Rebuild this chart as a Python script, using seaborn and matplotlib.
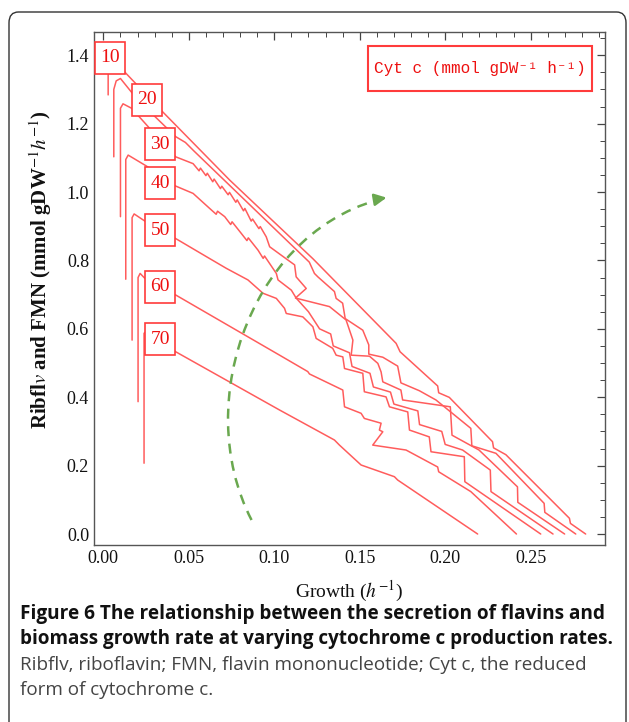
import matplotlib
matplotlib.use('Agg')
import pandas as pd
import matplotlib.pyplot as plt
import seaborn as sns
from matplotlib.patches import FancyBboxPatch, Rectangle, PathPatch
from matplotlib.path import Path
from matplotlib.ticker import MultipleLocator, FormatStrFormatter

# cytochrome c production rates (mmol gDW-1 h-1)
cyt_levels = [10, 20, 30, 40, 50, 60, 70]

growth_10 = [0.0028, 0.0028, 0.006, 0.0346, 0.0739, 0.1226, 0.1713, 0.1736, 0.1956, 0.1962,
             0.2024, 0.2277, 0.2283, 0.2355, 0.2727, 0.2733, 0.2822]
flux_10 = [1.284, 1.36, 1.385, 1.235, 1.035, 0.805, 0.5575, 0.533, 0.433, 0.413,
           0.3996, 0.270, 0.252, 0.232, 0.046, 0.031, 0.0]

growth_20 = [0.0061, 0.0061, 0.0075, 0.010, 0.020, 0.0423, 0.048, 0.053, 0.1205, 0.1235,
             0.1255, 0.1352, 0.1362, 0.1400, 0.1415, 0.1518, 0.1553, 0.1553, 0.1635, 0.1722,
             0.1741, 0.1849, 0.1946, 0.2150, 0.2156, 0.2297, 0.2579, 0.2583, 0.2764]
flux_20 = [1.103, 1.30, 1.325, 1.332, 1.27, 1.162, 1.145, 1.120, 0.795, 0.762,
           0.752, 0.709, 0.689, 0.675, 0.630, 0.596, 0.553, 0.526, 0.517, 0.491,
           0.442, 0.419, 0.392, 0.309, 0.258, 0.236, 0.0897, 0.0634, 0.0]

growth_30 = [0.0100, 0.0100, 0.0115, 0.0165, 0.030, 0.0423, 0.0525, 0.0560, 0.0568, 0.0600,
             0.0608, 0.0640, 0.0648, 0.0685, 0.0693, 0.0730, 0.0738, 0.0775, 0.0783, 0.0820,
             0.0828, 0.0865, 0.0873, 0.0910, 0.0918, 0.0953, 0.0973, 0.1080, 0.1119, 0.1128,
             0.1187, 0.1124, 0.1323, 0.1420, 0.1460, 0.1450, 0.1557, 0.1606, 0.1625, 0.1635,
             0.1741, 0.1751, 0.2030, 0.2040, 0.2198, 0.2423, 0.2425, 0.2699]
flux_30 = [0.928, 1.245, 1.258, 1.245, 1.17, 1.103, 1.083, 1.062, 1.070, 1.048,
           1.055, 1.030, 1.038, 1.010, 1.017, 0.992, 0.999, 0.970, 0.977, 0.945,
           0.952, 0.915, 0.921, 0.893, 0.899, 0.869, 0.840, 0.801, 0.787, 0.752,
           0.718, 0.690, 0.665, 0.626, 0.567, 0.523, 0.520, 0.499, 0.474, 0.445,
           0.421, 0.392, 0.372, 0.289, 0.2456, 0.138, 0.0927, 0.0]

growth_40 = [0.0131, 0.0131, 0.0145, 0.0252, 0.0423, 0.0525, 0.0622, 0.0660, 0.0668, 0.0710,
             0.0745, 0.0753, 0.0807, 0.0840, 0.0848, 0.0905, 0.0935, 0.0943, 0.1012, 0.1022,
             0.1100, 0.1128, 0.1200, 0.1265, 0.1330, 0.1345, 0.1440, 0.1455, 0.1560, 0.1580,
             0.1680, 0.1700, 0.1840, 0.1850, 0.1980, 0.2000, 0.2102, 0.2264, 0.2268, 0.2631]
flux_40 = [0.745, 1.095, 1.108, 1.076, 1.0175, 0.996, 0.952, 0.935, 0.944, 0.928,
           0.905, 0.913, 0.879, 0.858, 0.866, 0.830, 0.806, 0.813, 0.762, 0.743,
           0.713, 0.690, 0.650, 0.600, 0.585, 0.550, 0.530, 0.490, 0.470, 0.430,
           0.415, 0.380, 0.360, 0.320, 0.300, 0.262, 0.2456, 0.187, 0.124, 0.0]

growth_50 = [0.0168, 0.0168, 0.0180, 0.0243, 0.0423, 0.0603, 0.0719, 0.0846, 0.0934, 0.1012,
             0.1060, 0.1070, 0.1167, 0.1226, 0.1245, 0.1342, 0.1362, 0.1401, 0.1411, 0.1518,
             0.1527, 0.1654, 0.1674, 0.1781, 0.1791, 0.1907, 0.1917, 0.2112, 0.2115, 0.2559]
flux_50 = [0.567, 0.925, 0.936, 0.915, 0.864, 0.811, 0.777, 0.743, 0.704, 0.689,
           0.660, 0.645, 0.635, 0.606, 0.572, 0.543, 0.523, 0.518, 0.484, 0.470,
           0.416, 0.401, 0.372, 0.357, 0.304, 0.284, 0.2406, 0.226, 0.153, 0.0]

growth_60 = [0.0203, 0.0203, 0.0215, 0.0240, 0.0423, 0.1031, 0.1196, 0.1206, 0.1401, 0.1411,
             0.1508, 0.1527, 0.1625, 0.1615, 0.1635, 0.1576, 0.1771, 0.1956, 0.1962, 0.2121,
             0.2150, 0.2417]
flux_60 = [0.387, 0.750, 0.762, 0.749, 0.699, 0.523, 0.475, 0.468, 0.421, 0.372,
           0.353, 0.338, 0.324, 0.304, 0.299, 0.260, 0.2456, 0.196, 0.182, 0.133,
           0.124, 0.0]

growth_70 = [0.0238, 0.0238, 0.0250, 0.0423, 0.1031, 0.1352, 0.1381, 0.1508, 0.1703, 0.1722,
             0.2190]
flux_70 = [0.207, 0.587, 0.592, 0.533, 0.3626, 0.2749, 0.2602, 0.2018, 0.1676, 0.1579,
           0.0]

growth_all = [growth_10, growth_20, growth_30, growth_40, growth_50, growth_60, growth_70]
flux_all = [flux_10, flux_20, flux_30, flux_40, flux_50, flux_60, flux_70]

x_ticks = [0.00, 0.05, 0.10, 0.15, 0.20, 0.25]
y_ticks = [0.0, 0.2, 0.4, 0.6, 0.8, 1.0, 1.2, 1.4]

rows = []
for lvl, gx, fy in zip(cyt_levels, growth_all, flux_all):
    for i, (g, f) in enumerate(zip(gx, fy)):
        rows.append({'cyt': lvl, 'step': i, 'growth': g, 'flux': f})
df = pd.DataFrame(rows)

sns.set_theme(style='white')
plt.rcParams['font.family'] = ['Liberation Serif', 'DejaVu Serif']
plt.rcParams['mathtext.fontset'] = 'stix'

line_red = '#ff5c5c'
box_red = '#ff3b3b'
text_red = '#ee1010'
green = '#6aa84f'

fig = plt.figure(figsize=(6.29, 7.22), dpi=100)
ax = fig.add_axes([0.1494, 0.2452, 0.8124, 0.7105])

for lvl, sub in df.groupby('cyt'):
    sns.lineplot(data=sub, x='growth', y='flux', sort=False, estimator=None,
                 color=line_red, lw=1.1, ax=ax)

# value labels sitting on the curves
label_pos = [(0.0038, 1.392), (0.0255, 1.270), (0.0333, 1.140), (0.0333, 1.025),
             (0.0333, 0.888), (0.0333, 0.723), (0.0333, 0.569)]
bw, bh = 0.0175, 0.0936
for lvl, (lx, ly) in zip(cyt_levels, label_pos):
    ax.add_patch(Rectangle((lx - bw / 2, ly - bh / 2), bw, bh, fc='white',
                           ec=box_red, lw=1.2, zorder=5))
    ax.text(lx, ly, str(lvl), ha='center', va='center', color=text_red,
            fontsize=14, zorder=6)

# legend-like box
ax.add_patch(Rectangle((0.537, 0.884), 0.438, 0.089, transform=ax.transAxes,
                       fill=False, ec=box_red, lw=1.5, zorder=6))
ax.text(0.756, 0.928, 'Cyt c (mmol gDW⁻¹ h⁻¹)', transform=ax.transAxes,
        ha='center', va='center', color=text_red, fontsize=11.5,
        family=['Liberation Mono', 'DejaVu Sans Mono'], zorder=6)

# dashed green arrow
verts = [(0.0867, 0.041), (0.0505, 0.392), (0.0886, 0.9035), (0.1673, 0.985)]
arc = Path(verts, [Path.MOVETO, Path.CURVE4, Path.CURVE4, Path.CURVE4])
ax.add_patch(PathPatch(arc, fill=False, ec=green, lw=1.8, ls=(0, (4, 3)), zorder=4))
ax.annotate('', xy=(0.1673, 0.985), xytext=(0.1573, 0.9765),
            arrowprops=dict(arrowstyle='-|>,head_length=0.6,head_width=0.3',
                            color=green, lw=1.8), zorder=4)

ax.set_xlim(-0.0055, 0.2935)
ax.set_ylim(-0.032, 1.468)
ax.set_xticks(x_ticks)
ax.set_yticks(y_ticks)
ax.xaxis.set_major_formatter(FormatStrFormatter('%.2f'))
ax.yaxis.set_major_formatter(FormatStrFormatter('%.1f'))
ax.xaxis.set_minor_locator(MultipleLocator(0.01))
ax.yaxis.set_minor_locator(MultipleLocator(0.05))
ax.tick_params(which='both', direction='in', top=True, right=True, colors='#444444',
               labelcolor='#111111', labelsize=13)
ax.tick_params(which='major', length=6, width=0.9)
ax.tick_params(which='minor', length=3.5, width=0.7)
for s in ax.spines.values():
    s.set_color('#555555')
    s.set_linewidth(1.0)

ax.set_xlabel('Growth ($h^{-1}$)', fontsize=14, color='#111111', labelpad=9)
ax.set_ylabel('Ribfl$v$ and FMN (mmol gDW$^{-1}$$h^{-1}$)', fontsize=15,
              fontweight='bold', color='#111111')
ax.yaxis.set_label_coords(-0.078, 0.536)

# caption
cap = dict(transform=fig.transFigure, ha='left', va='center',
           family=['Open Sans', 'DejaVu Sans'])
fig.text(0.032, 1 - 614 / 722, 'Figure 6 The relationship between the secretion of flavins and',
         fontsize=13.7, fontweight='bold', color='#111111', **cap)
fig.text(0.032, 1 - 639 / 722, 'biomass growth rate at varying cytochrome c production rates.',
         fontsize=13.6, fontweight='bold', color='#111111', **cap)
fig.text(0.032, 1 - 665 / 722, 'Ribflv, riboflavin; FMN, flavin mononucleotide; Cyt c, the reduced',
         fontsize=13.6, color='#444444', **cap)
fig.text(0.032, 1 - 690 / 722, 'form of cytochrome c.',
         fontsize=13.6, color='#444444', **cap)

# rounded frame around the panel
fig.patches.append(FancyBboxPatch((9 / 629, -0.05), 617 / 629, 1.05 - 12 / 722,
                                  boxstyle='round,pad=0,rounding_size=0.015',
                                  transform=fig.transFigure, fill=False,
                                  ec='#333333', lw=1.0))

fig.savefig('out.png', dpi=100)
